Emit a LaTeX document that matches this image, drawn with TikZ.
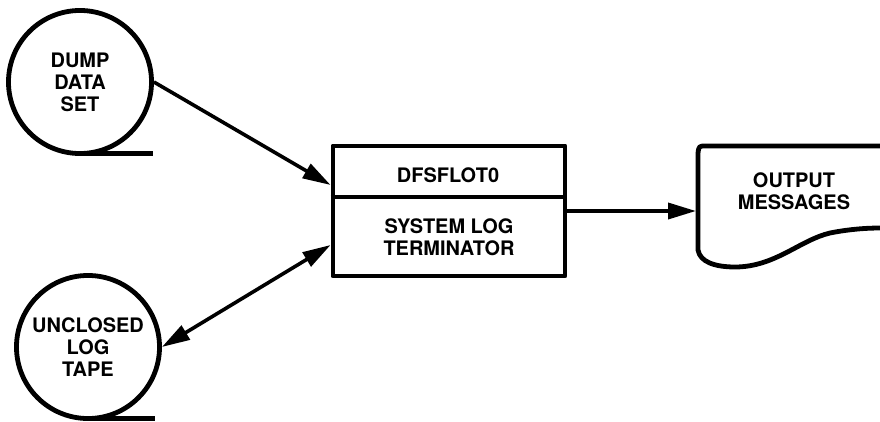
\documentclass[tikz,border=0pt]{standalone}
\usepackage{fontspec}
\setmainfont{TeX Gyre Heros}
\usetikzlibrary{arrows.meta}
\begin{document}
\begin{tikzpicture}[x=0.025cm, y=-0.025cm, line join=round,
  font=\fontsize{14.2}{15.6}\selectfont\bfseries,
  bighead/.tip={Triangle[length=0.7cm, width=0.4cm]},
  heavy/.style={line width=0.12cm},
  tape/.style={draw, circle, heavy, minimum size=3.575cm, inner sep=0pt, align=center},
  flow/.style={line width=0.09cm, -bighead},
  twoway/.style={line width=0.09cm, bighead-bighead}]
\useasboundingbox (0,0) rectangle (880,421);
% tapes
\node[tape] (dump) at (80,82) {DUMP\\DATA\\SET};
\node[tape] (unclosed) at (88,347) {UNCLOSED\\LOG\\TAPE};
\draw[heavy] ([yshift=0.06cm]dump.south) -- ++(73,0);
\draw[heavy] ([yshift=0.06cm]unclosed.south) -- ++(67,0);
% program box
\node[draw, heavy, minimum width=5.8cm, minimum height=3.25cm, inner sep=0pt] (box) at (449,211) {};
\coordinate (split) at (0,197);
\draw[line width=0.09cm] (box.west |- split) -- (box.east |- split);
\node (title) at (448,175) {DFSFLOT0};
\node[align=center] (role) at (449,237) {SYSTEM LOG\\TERMINATOR};
% output document
\draw[heavy] (880,146) -- (706,146) .. controls (699,146) .. (698,153) -- (698,250)
  .. controls (700,262) and (715,267) .. (735,267)
  .. controls (775,267) and (800,240) .. (830,233)
  .. controls (850,229) and (868,228) .. (880,228);
\node[align=center] (msg) at (794,191) {OUTPUT\\MESSAGES};
\coordinate (docin) at (696,211);
% connectors
\draw[flow] (dump.east) -- ([yshift=0.65cm]box.west);
\draw[twoway] (unclosed.east) -- ([yshift=-0.85cm]box.west);
\draw[flow] (box.east) -- (docin);
\end{tikzpicture}
\end{document}
